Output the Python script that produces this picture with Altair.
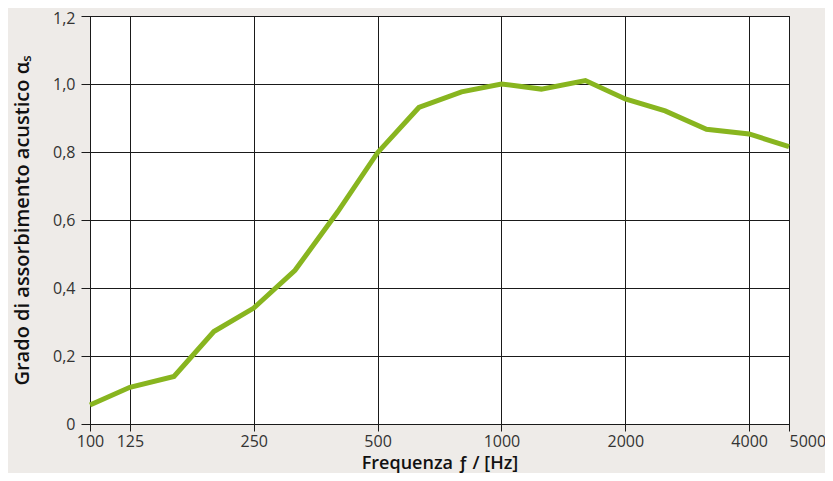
import altair as alt
import pandas as pd

freqs = [100, 125, 160, 200, 250, 315, 400, 500, 630, 800, 1000, 1250, 1600, 2000, 2500, 3150, 4000, 5000]
alpha = [0.056, 0.108, 0.140, 0.272, 0.341, 0.452, 0.624, 0.798, 0.931, 0.977, 1.0, 0.985, 1.01, 0.956, 0.921, 0.867, 0.853, 0.816]
x_ticks = [100, 125, 250, 500, 1000, 2000, 4000, 5000]
y_ticks = [0, 0.2, 0.4, 0.6, 0.8, 1.0, 1.2]

df = pd.DataFrame({"freq": freqs, "alpha": alpha})

FONT = "Open Sans"
BG = "#eeebe8"
GRID = "#1a1a1a"

chart = alt.Chart(df).mark_line(color="#88b51f", strokeWidth=5, strokeJoin="miter").encode(
    x=alt.X(
        "freq:Q",
        scale=alt.Scale(type="log", domain=[100, 5000], nice=False),
        axis=alt.Axis(
            values=x_ticks,
            title="Frequenza ƒ / [Hz]",
            labelExpr="format(datum.value, 'd')",
            labelAlign=alt.ExprRef(expr="datum.value == 5000 ? 'left' : 'center'"),
            labelFlush=False,
            labelOverlap=False,
            tickSize=7,
            labelPadding=2,
            titlePadding=5,
            titleFontSize=18,
        ),
    ),
    y=alt.Y(
        "alpha:Q",
        scale=alt.Scale(domain=[0, 1.2], nice=False, zero=True),
        axis=alt.Axis(
            values=y_ticks,
            title="Grado di assorbimento acustico αₛ",
            labelExpr="datum.value == 0 ? '0' : replace(format(datum.value, '.1f'), '.', ',')",
            labelOffset=alt.ExprRef(expr="datum.value == 1.2 ? 2 : 0"),
            tickSize=9,
            labelPadding=6,
            titlePadding=20,
            titleFontSize=20,
        ),
    ),
).properties(
    width=699,
    height=408,
    autosize=alt.AutoSizeParams(type="none"),
    padding={"left": 82, "top": 8, "right": 36, "bottom": 49},
    background=BG,
).configure_view(
    fill="white", stroke=GRID, strokeWidth=1
).configure_axis(
    grid=True,
    gridColor=GRID,
    gridOpacity=1,
    gridWidth=1,
    domainColor=GRID,
    tickColor=GRID,
    labelFont=FONT,
    labelFontSize=16,
    labelColor="#333333",
    titleFont=FONT,
    titleFontWeight=600,
    titleColor="#111111",
)

chart.save("out.html", embed_options={"renderer": "svg", "actions": False})
